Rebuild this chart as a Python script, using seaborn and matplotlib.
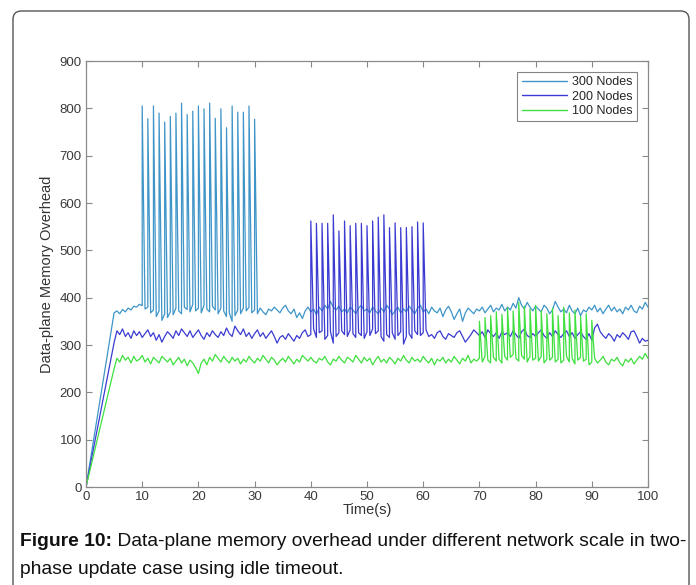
import numpy as np
import pandas as pd
import matplotlib
matplotlib.use("Agg")
import matplotlib.pyplot as plt
from matplotlib.patches import FancyBboxPatch
import seaborn as sns

# === DATA ===
SERIES = ["300 Nodes", "200 Nodes", "100 Nodes"]
COLORS = ["#3f95c8", "#3b3bd2", "#3fe03f"]

# sampling grid of the steady part, every 0.5 s from 5 s to 100 s
base_t = np.arange(5, 100.5, 0.5)

vals_300 = [
    368, 372, 366, 375, 370, 378, 374, 382, 380, 386,
    383, 376, 380, 368, 374, 360, 372, 352, 366, 358,
    370, 364, 378, 372, 366, 380, 375, 370, 386, 372,
    378, 368, 384, 376, 370, 382, 374, 366, 378, 372,
    360, 368, 350, 362, 374, 366, 378, 372, 380, 368,
    374, 366, 378, 370, 364, 376, 372, 380, 374, 368,
    378, 384, 372, 366, 376, 358, 368, 356, 372, 380,
    370, 376, 364, 380, 372, 384, 376, 392, 380, 374,
    382, 370, 376, 368, 380, 374, 366, 378, 384, 372,
    376, 368, 380, 372, 366, 378, 370, 384, 376, 364,
    372, 380, 368, 376, 370, 382, 374, 366, 378, 384,
    370, 376, 366, 380, 372, 368, 378, 360, 374, 382,
    370, 354, 366, 376, 350, 368, 378, 372, 366, 376,
    372, 380, 368, 376, 384, 370, 378, 374, 386, 372,
    380, 374, 388, 378, 400, 384, 376, 390, 380, 372,
    382, 376, 370, 384, 378, 366, 374, 392, 380, 370,
    376, 368, 384, 372, 366, 378, 362, 374, 370, 380,
    374, 384, 370, 378, 366, 376, 384, 372, 380, 370,
    376, 366, 380, 374, 384, 372, 368, 382, 376, 390,
    380,
]
vals_200 = [
    305, 330, 322, 334, 318, 326, 314, 330, 320, 328,
    316, 324, 332, 318, 326, 310, 322, 306, 318, 328,
    322, 314, 330, 320, 334, 326, 318, 330, 316, 324,
    332, 320, 312, 326, 318, 330, 322, 316, 328, 320,
    336, 324, 318, 340, 330, 322, 334, 318, 326, 314,
    324, 332, 318, 326, 314, 322, 330, 318, 304, 316,
    320, 312, 324, 316, 308, 320, 314, 326, 332, 318,
    322, 334, 316, 326, 330, 312, 320, 328, 304, 318,
    326, 330, 322, 318, 332, 324, 316, 326, 320, 314,
    328, 320, 334, 324, 330, 318, 308, 322, 316, 326,
    312, 320, 328, 302, 318, 324, 314, 330, 322, 320,
    326, 332, 318, 322, 314, 326, 330, 318, 312, 324,
    320, 316, 326, 330, 318, 306, 314, 322, 332, 326,
    320, 328, 316, 332, 324, 318, 326, 314, 328, 322,
    326, 318, 330, 322, 314, 328, 334, 320, 316, 324,
    318, 326, 332, 320, 314, 326, 318, 330, 322, 316,
    324, 330, 318, 326, 314, 322, 328, 318, 312, 324,
    310, 336, 344, 328, 320, 314, 324, 318, 308, 322,
    316, 326, 320, 312, 328, 330, 318, 304, 314, 308,
    310,
]
vals_100 = [
    250, 272, 264, 278, 268, 274, 262, 276, 266, 270,
    278, 264, 272, 260, 274, 268, 262, 276, 270, 264,
    272, 258, 266, 274, 262, 270, 256, 268, 262, 252,
    240, 262, 270, 258, 274, 266, 280, 272, 264, 276,
    268, 262, 274, 266, 272, 260, 270, 264, 276, 268,
    262, 272, 266, 278, 270, 262, 274, 268, 258, 266,
    272, 264, 276, 268, 260, 270, 264, 278, 272, 266,
    274, 266, 262, 272, 268, 276, 264, 258, 270, 266,
    276, 268, 262, 274, 270, 264, 278, 270, 262, 274,
    266, 272, 258, 268, 276, 264, 270, 262, 274, 268,
    260, 272, 266, 278, 268, 262, 274, 266, 270, 264,
    276, 268, 262, 272, 258, 270, 266, 274, 262, 270,
    264, 276, 268, 260, 272, 266, 278, 262, 270, 266,
    272, 264, 276, 268, 262, 274, 266, 270, 262, 276,
    268, 274, 280, 272, 266, 278, 270, 264, 276, 268,
    272, 266, 276, 262, 270, 268, 274, 264, 270, 262,
    268, 276, 264, 272, 260, 268, 274, 266, 270, 258,
    264, 272, 262, 268, 276, 264, 258, 270, 266, 274,
    262, 256, 270, 264, 272, 260, 268, 276, 270, 282,
    272,
]

# spikes (update bursts): time and peak value
spike_t_300 = [10, 11, 12, 13, 14, 15, 16, 17, 18, 19, 20,
               21, 22, 23, 24, 25, 26, 27, 28, 29, 30]
spike_v_300 = [805, 778, 805, 790, 771, 783, 790, 811, 787, 794, 805,
               799, 811, 779, 799, 759, 805, 792, 792, 805, 777]
spike_t_200 = [40, 41, 42, 43, 44, 45, 46, 47, 48, 49, 50,
               51, 52, 53, 54, 55, 56, 57, 58, 59, 60]
spike_v_200 = [562, 557, 557, 557, 575, 541, 562, 552, 557, 557, 552,
               562, 570, 575, 548, 558, 548, 548, 550, 560, 558]
spike_t_100 = [70, 71, 72, 73, 74, 75, 76, 77, 78, 79, 80,
               81, 82, 83, 84, 85, 86, 87, 88, 89, 90]
spike_v_100 = [350, 358, 362, 370, 365, 378, 372, 390, 382, 376, 384,
               372, 366, 378, 362, 380, 368, 374, 360, 366, 352]


def build(name, vals, st, sv):
    start = pd.DataFrame({"t": [0.0], "v": [0.0]})
    base = pd.DataFrame({"t": base_t, "v": vals})
    spk = pd.DataFrame({"t": st, "v": sv})
    d = pd.concat([start, base, spk], ignore_index=True)
    d = d.sort_values("t", kind="stable")
    d["series"] = name
    return d


df = pd.concat([
    build(SERIES[0], vals_300, spike_t_300, spike_v_300),
    build(SERIES[1], vals_200, spike_t_200, spike_v_200),
    build(SERIES[2], vals_100, spike_t_100, spike_v_100),
], ignore_index=True)

# === PLOT ===
sns.set_style("white")
plt.rcParams["font.family"] = ["Liberation Sans", "DejaVu Sans"]

fig = plt.figure(figsize=(6.96, 5.85), dpi=100)
ax = fig.add_axes([86 / 696, 1 - 487 / 585, 562 / 696, 426 / 585])

sns.lineplot(data=df, x="t", y="v", hue="series", hue_order=SERIES,
             palette=COLORS, estimator=None, sort=False, lw=0.9, ax=ax)

ax.set_xlim(0, 100)
ax.set_ylim(0, 900)
ax.set_xticks(range(0, 101, 10))
ax.set_yticks(range(0, 901, 100))
ax.tick_params(direction="in", length=4, width=0.8, colors="#888888",
               labelcolor="#3a3a3a", labelsize=9.5, top=True, right=True,
               bottom=True, left=True, pad=3)
for s in ax.spines.values():
    s.set_color("#8a8a8a")
    s.set_linewidth(0.9)
ax.set_xlabel("Time(s)", fontsize=10.5, color="#333333", labelpad=0)
ax.set_ylabel("Data-plane Memory Overhead", fontsize=10.5, color="#333333",
              labelpad=4)

leg = ax.legend(loc="upper right", bbox_to_anchor=(0.98, 0.975), fontsize=9,
                frameon=True, fancybox=False, edgecolor="#666666",
                handlelength=3.6, borderpad=0.35, labelspacing=0.2,
                handletextpad=0.4, borderaxespad=0)
leg.get_frame().set_linewidth(0.8)
for h in leg.get_lines():
    h.set_linewidth(1.0)

# rounded outer frame
frame = FancyBboxPatch((13 / 696, -0.05), 676 / 696, 1.05 - 11 / 585,
                       boxstyle="round,pad=0,rounding_size=0.012",
                       mutation_aspect=696 / 585,
                       transform=fig.transFigure, fill=False,
                       edgecolor="#555555", lw=1.0)
fig.patches.append(frame)

# caption
cap_y1 = 1 - 541 / 585
cap_y2 = 1 - 569 / 585
t1 = fig.text(20 / 696, cap_y1, "Figure 10:", fontsize=13.85, fontweight="bold",
              va="center", ha="left", color="#111111")
renderer = fig.canvas.get_renderer()
bb = t1.get_window_extent(renderer=renderer)
x_next = bb.x1 / fig.bbox.width
fig.text(x_next, cap_y1,
         " Data-plane memory overhead under different network scale in two-",
         fontsize=13.85, va="center", ha="left", color="#111111")
fig.text(20 / 696, cap_y2, "phase update case using idle timeout.",
         fontsize=13.85, va="center", ha="left", color="#111111")

fig.savefig("out.png", dpi=100)
